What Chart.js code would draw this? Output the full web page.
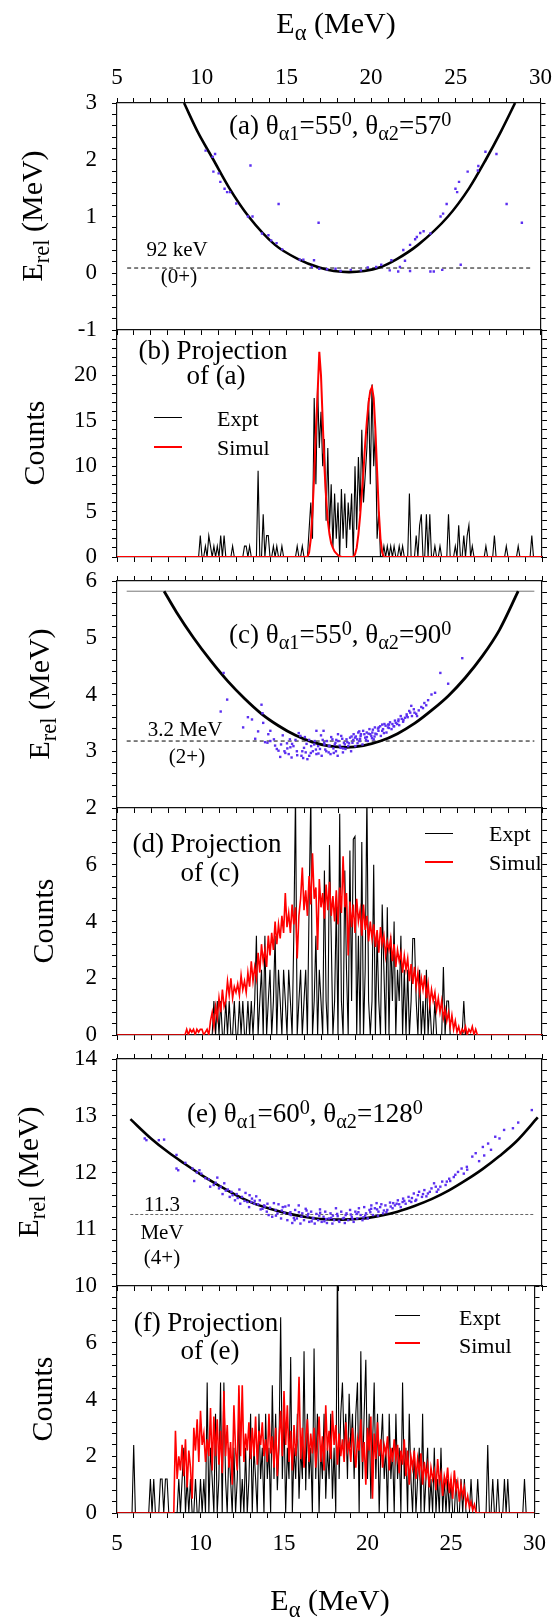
<!DOCTYPE html>
<html><head><meta charset="utf-8">
<script src="https://cdn.jsdelivr.net/npm/chart.js@4.4.1/dist/chart.umd.min.js"></script>
<style>
html,body{margin:0;padding:0;background:#fff;}
#wrap{position:relative;width:558px;height:1619px;overflow:hidden;font-family:'Liberation Serif','Times New Roman',serif;color:#000;}
canvas{position:absolute;left:0;top:0;}
.t{position:absolute;white-space:nowrap;line-height:1;}
.c{transform:translateX(-50%);}
.rot{transform:translate(-50%,-50%) rotate(-90deg);}
.sb{font-size:0.75em;position:relative;top:0.3em;}
.sp{font-size:0.75em;position:relative;top:-0.42em;}
.ln{position:absolute;height:0;}
</style></head><body><div id="wrap">
<canvas id="ca" width="558" height="1619"></canvas>
<canvas id="cb" width="558" height="1619"></canvas>
<canvas id="cc" width="558" height="1619"></canvas>
<canvas id="cd" width="558" height="1619"></canvas>
<canvas id="ce" width="558" height="1619"></canvas>
<canvas id="cf" width="558" height="1619"></canvas>

<div class="t c" style="left:336px;top:8px;font-size:30px">E<span class="sb">α</span> (MeV)</div>
<div class="t c" style="left:330px;top:1585px;font-size:30px">E<span class="sb">α</span> (MeV)</div>

<div class="t rot" style="left:32px;top:216px;font-size:30px">E<span class="sb">rel</span> (MeV)</div>
<div class="t rot" style="left:34px;top:443px;font-size:30px">Counts</div>
<div class="t rot" style="left:39px;top:694px;font-size:30px">E<span class="sb">rel</span> (MeV)</div>
<div class="t rot" style="left:43px;top:921px;font-size:30px">Counts</div>
<div class="t rot" style="left:28px;top:1172px;font-size:30px">E<span class="sb">rel</span> (MeV)</div>
<div class="t rot" style="left:42px;top:1399px;font-size:30px">Counts</div>

<div class="t" style="left:229px;top:112px;font-size:27px">(a) θ<span class="sb">α1</span>=55<span class="sp">0</span>, θ<span class="sb">α2</span>=57<span class="sp">0</span></div>
<div class="t c" style="left:177px;top:239px;font-size:21px">92 keV</div>
<div class="t c" style="left:179px;top:266px;font-size:21px">(0+)</div>

<div class="t c" style="left:213px;top:337px;font-size:27px">(b) Projection</div>
<div class="t c" style="left:216px;top:362px;font-size:27px">of (a)</div>
<div class="ln" style="left:154px;top:417px;width:28px;border-top:1.5px solid #000"></div>
<div class="ln" style="left:154px;top:446px;width:28px;border-top:2px solid #f00"></div>
<div class="t" style="left:217px;top:408px;font-size:22px">Expt</div>
<div class="t" style="left:217px;top:437px;font-size:22px">Simul</div>

<div class="t" style="left:229px;top:621px;font-size:27px">(c) θ<span class="sb">α1</span>=55<span class="sp">0</span>, θ<span class="sb">α2</span>=90<span class="sp">0</span></div>
<div class="t c" style="left:185px;top:719px;font-size:21px">3.2 MeV</div>
<div class="t c" style="left:187px;top:746px;font-size:21px">(2+)</div>

<div class="t c" style="left:207px;top:830px;font-size:27px">(d) Projection</div>
<div class="t c" style="left:210px;top:859px;font-size:27px">of (c)</div>
<div class="ln" style="left:425px;top:833px;width:28px;border-top:1.5px solid #000"></div>
<div class="ln" style="left:425px;top:861px;width:28px;border-top:2px solid #f00"></div>
<div class="t" style="left:489px;top:823px;font-size:22px">Expt</div>
<div class="t" style="left:489px;top:852px;font-size:22px">Simul</div>

<div class="t" style="left:187px;top:1100px;font-size:27px">(e) θ<span class="sb">α1</span>=60<span class="sp">0</span>, θ<span class="sb">α2</span>=128<span class="sp">0</span></div>
<div class="t c" style="left:162px;top:1194px;font-size:21px">11.3</div>
<div class="t c" style="left:162px;top:1222px;font-size:21px">MeV</div>
<div class="t c" style="left:162px;top:1247px;font-size:21px">(4+)</div>

<div class="t c" style="left:206px;top:1309px;font-size:27px">(f) Projection</div>
<div class="t c" style="left:210px;top:1337px;font-size:27px">of (e)</div>
<div class="ln" style="left:395px;top:1315px;width:25px;border-top:1.5px solid #000"></div>
<div class="ln" style="left:395px;top:1342px;width:25px;border-top:2px solid #f00"></div>
<div class="t" style="left:459px;top:1307px;font-size:22px">Expt</div>
<div class="t" style="left:459px;top:1335px;font-size:22px">Simul</div>
</div>
<script>
// ---------------- data ----------------
const X_MIN = 5, X_MAX = 30;
const X_LABELS = [5, 10, 15, 20, 25, 30];
const BIN = 0.1;

const aYLabels = [-1, 0, 1, 2, 3];
const bYLabels = [0, 5, 10, 15, 20];
const cYLabels = [2, 3, 4, 5, 6];
const dYLabels = [0, 2, 4, 6];
const eYLabels = [10, 11, 12, 13, 14];
const fYLabels = [0, 2, 4, 6];

// (a) kinematic curve and events
const aCurveX = [8.96, 9.75, 10.69, 11.63, 12.77, 14.33, 15.69, 16.94, 17.8, 18.7, 19.6, 20.48, 21.52, 22.77, 24.54, 25.79, 26.77, 27.67, 28.5];
const aCurveY = [3, 2.5, 2, 1.5, 1, 0.5, 0.25, 0.1, 0.04, 0.02, 0.04, 0.1, 0.25, 0.5, 1, 1.5, 2, 2.5, 3];
const aDotsX = [10.23,10.79,10.65,10.69,11.0,11.1,11.35,11.5,11.67,12.04,12.88,12.73,13.0,13.56,13.94,14.1,14.54,14.42,14.75,15.79,16.0,16.63,16.5,16.9,16.94,17.4,17.9,18.2,18.8,19.4,19.8,20.3,20.6,21.1,21.2,21.7,21.6,22.0,21.9,22.3,22.3,22.6,22.7,22.9,23.1,23.5,23.5,23.7,24.2,24.1,24.25,24.46,24.98,25.08,25.19,25.29,25.7,26.3,26.33,26.75,27.4,28.0,28.9];
const aDotsY = [2.16,2.10,2.05,1.79,1.76,1.61,1.49,1.43,1.43,1.23,1.90,1.0,1.0,0.70,0.67,0.58,1.22,0.53,0.42,0.24,0.24,0.23,0.11,0.89,0.08,0.07,0.08,0.04,0.06,0.05,0.1,0.11,0.15,0.05,0.23,0.11,0.03,0.22,0.41,0.50,0.04,0.60,0.64,0.71,0.74,0.70,0.03,0.03,0.06,1.0,1.05,1.22,1.49,1.43,1.61,0.15,1.79,1.81,1.89,2.14,2.10,1.22,0.89];
const aLevel = 0.092, aLevelFrom = 5.6, aLevelTo = 29.5;

// (b) projection of (a)
const bExptStart = 9.7;
const bExpt = [0,0,2.35,0,0,1.2,0,2.35,1.2,0, 1.2,0,1.2,0,2.35,0,2.35,0,0,0, 0,1.2,0,0,0,0,0,0,1.2,1.2, 0,1.2,0,0,0,0,9.5,0,0,4.7, 0,2.35,2.35,0,0,1.2,0,1.2,0,0, 1.2,0,0,0,0,0,0,0,0,1.2, 0,0,1.2,0,0,0,3,6,2,17.5, 8,19,12,16,10,13,4,12,3,8, 1,7,2,6,0,7.5,2,7,1,6, 3,7,0,10,3,11,5,14,6,9, 12,17.5,8,19,10,14,2,5,0,0, 1.2,0,1.2,0,1.2,0,1.2,0,0,1.2, 0,1.2,0,0,0,7.0,0,0,0,2.35, 0,3.5,4.7,0,0,4.7,0,4.7,0,0, 1.2,0,0,1.2,0,0,0,0,4.7,0, 0,0,1.2,0,3.5,0,0,2.35,0,2.35, 3.5,0,1.2,0,0,0,0,0,0,0, 1.2,0,0,0,0,2.35,0,0,0,0, 0,0,1.2,0,0,0,0,0,0,1.2, 0,0,0,0,0,0,0,2.35,0];
const bSimulStart = 16.2;
const bSimul = [0,0.5,2,5,9,14,18,22.6,20,15, 10,6.5,4,2.5,1.5,1,0.6,0.4,0.2,0.1, 0,0,0,0,0,0,0,0, 0.3,1,2.5,4.5,7,9.5,12.5,15,17,18.3, 18.7,17.5,14,9.5,5,2,0.5,0];

// (c) kinematic curve and events
const cCurveX = [7.77, 8.5, 9.5, 10.5, 11.5, 12.5, 13.5, 14.5, 15.5, 16.5, 17.5, 18.5, 19.5, 20.5, 21.5, 22.5, 23.5, 24.5, 25.5, 26.5, 27.5, 28.6];
const cCurveY = [5.82, 5.45, 5.0, 4.6, 4.24, 3.93, 3.66, 3.45, 3.28, 3.16, 3.09, 3.07, 3.1, 3.18, 3.31, 3.49, 3.72, 3.98, 4.3, 4.68, 5.14, 5.82];
const cDotsX = [11.27,11.1,11.48,12.42,12.94,13.13,13.5,13.56,13.6,13.71, 13.85,14.02,14.02,14.23,14.4,14.5,14.65,14.75,14.85,15.02, 15.1,15.17,15.27,15.38,15.58,15.69,15.79,15.85,16.0,16.1, 16.2,16.31,16.42,16.52,16.63,16.73,16.73,16.83,16.94,17.04, 17.15,17.19,17.31,17.35,17.46,17.56,17.67,17.73,17.81,17.88, 17.98,18.02,18.15,18.19,18.29,18.35,18.44,18.5,18.6,18.71, 18.77,18.85,18.92,19.02,19.13,19.19,19.27,19.33,19.44,19.48, 19.6,19.69,19.75,19.85,19.96,20.02,20.1,20.17,20.27,20.38, 20.48,20.52,20.65,20.73,20.85,20.94,21.06,21.15,21.27,21.35, 21.48,21.56,21.69,21.83,21.94,22.04,22.19,22.31,22.35,22.46, 23.08,23.19,23.5,23.71,24.02,24.48,25.31,
 14.3,14.9,15.3,15.5,15.9,16.05,16.4,16.6,16.85,17.1, 17.25,17.5,17.6,17.85,18.1,18.25,18.4,18.65,18.9,19.05, 19.3,19.55,19.7,19.9,20.05,20.2,20.35,20.6,20.8,21.0, 21.2,21.4,21.6,21.75,22.1,22.25,22.6,22.75,22.9,23.3, 13.3,12.7,13.9,15.0,16.3,17.0,18.0,19.0,20.0,21.0,
 15.2,15.6,16.15,16.7,17.2,17.45,17.9,18.3,18.55,18.8, 19.15,19.35,19.65,19.8,20.15,20.4,20.7,20.95,21.3,21.55, 21.85,22.05,22.5,22.65,23.0,14.6,15.95,17.75,19.25,20.6];
const cDotsY = [4.38,3.70,3.91,3.42,3.56,3.22,3.82,3.67,3.5,3.16, 3.15,3.36,3.18,3.21,3.04,3.01,3.12,3.28,3.0,3.05, 2.95,3.21,2.89,3.09,3.0,3.32,3.27,2.92,3.06,2.98, 2.86,2.92,3.09,3.0,3.18,3.36,2.95,3.09,3.04,2.92, 3.36,3.15,3.0,3.18,3.09,2.95,3.21,3.05,3.12,3.0, 2.92,3.18,3.06,3.27,2.98,3.15,3.04,3.21,3.09,3.24, 3.0,3.15,3.30,3.09,3.21,3.33,3.18,3.27,3.12,3.36, 3.24,3.33,3.18,3.39,3.27,3.33,3.21,3.42,3.3,3.36, 3.44,3.27,3.39,3.48,3.33,3.42,3.51,3.39,3.44,3.54, 3.48,3.56,3.62,3.52,3.59,3.65,3.71,3.80,3.62,3.74, 3.85,3.81,4.0,4.03,4.38,4.19,4.64,
 3.1,2.97,3.13,3.2,3.0,3.25,2.97,3.12,2.96,3.2, 3.03,3.1,3.25,3.15,3.1,3.22,3.12,3.14,3.2,3.26, 3.22,3.3,3.25,3.3,3.38,3.31,3.4,3.36,3.45,3.41, 3.48,3.5,3.46,3.57,3.6,3.68,3.66,3.72,3.78,3.9, 3.35,3.6,3.3,3.14,3.2,3.28,3.3,3.24,3.23,3.47,
 3.07,2.93,3.13,3.03,3.12,2.98,3.2,3.05,3.16,3.26, 3.14,3.3,3.2,3.31,3.26,3.42,3.32,3.47,3.44,3.53, 3.55,3.62,3.68,3.62,3.76,2.9,2.88,2.97,3.35,3.47];
const cLevel = 3.18, cLevelFrom = 5.57, cLevelTo = 29.55;
const cTopLevel = 5.82;

// (d) projection of (c)
const dExptStart = 10.6;
const dExpt = [0,1.2,0,1.2,
 0,1.2,0,0,1.2,0,1.2,0,0,1.2,
 0,0,1.2,0,1.2,0,0,1.2,0,1.2,
 0,1.2,3.5,0,1.2,2.3,0,3.5,0,1.2,
 2.3,0,1.2,3.5,0,2.3,1.2,0,2.3,1.2,
 0,2.3,1.2,0,3.5,8.5,0,1.2,2.3,0,
 1.2,2.3,0,4.6,8.5,0,1.2,3.5,0,2.3,
 1.2,0,5.8,1.2,0,6.7,3.5,0,1.2,4.6,
 0,7.8,1.2,0,5.8,2.3,0,6.5,1.2,6.9,
 7.0,0,3.5,0,6.8,0,2.3,8.5,1.2,0,
 1.2,6.0,0,3.5,1.2,0,4.6,2.3,0,4.5,
 0,3.5,1.2,4.0,0,2.3,1.2,3.5,0,2.3,
 0,2.3,0,1.2,3.4,3.4,1.2,0,2.3,0,
 1.2,0,2.3,0,1.2,0,0,1.2,0,0,
 0,0,2.4,0,1.2,1.2,0,0,0,0,
 0,0,0,0,1.2,0,0];
const dSimulStart = 9.0;
const dSimul = [0,0.2,0,0.2,0.1,0.2,0,0.2,0.1,0.2,
 0.2,0,0.1,0.2,0,0.5,0.8,0.3,1.0,0.6,
 1.3,0.8,1.6,1.0,1.2,1.9,1.4,2.0,1.3,1.7,
 1.5,1.8,1.4,2.1,1.6,1.9,1.5,2.2,1.7,2.6,
 1.9,2.4,2.0,2.9,2.2,3.2,2.6,3.0,2.4,3.5,
 2.8,3.6,3.0,4.0,3.2,3.9,3.4,4.2,3.6,5.0,
 3.8,4.3,3.6,4.6,3.9,4.5,2.7,4.2,4.8,5.9,
 4.4,5.1,4.2,5.6,4.6,6.4,4.8,5.2,3.0,5.5,
 4.5,5.0,4.1,5.3,4.4,5.4,4.2,4.9,4.0,5.1,
 3.9,5.2,4.3,6.3,4.5,5.0,2.8,4.7,3.8,4.6,
 3.6,4.8,4.0,4.4,3.5,4.6,3.7,4.2,3.3,4.0,
 3.4,3.9,3.1,3.7,2.9,3.8,3.2,3.5,2.8,3.3,
 3.0,3.4,2.6,3.2,2.4,3.0,2.6,2.9,2.2,2.8,
 2.3,2.7,1.9,2.5,1.8,2.4,1.7,2.2,1.5,2.0,
 1.6,2.1,1.3,1.8,1.1,1.6,1.2,1.5,0.9,1.3,
 0.8,1.2,0.6,0.9,0.5,0.8,0.3,0.7,0.2,0.5,
 0.1,0.3,0,0.2,0.1,0.3,0,0.2,0.1,0.3,
 0,0.2,0,0];

// (e) kinematic curve and events
const eCurveX = [5.79, 7.0, 8.0, 9.0, 10.0, 11.0, 12.0, 13.0, 14.0, 15.0, 16.0, 17.0, 18.2, 19.5, 20.5, 21.5, 22.5, 23.5, 24.5, 25.5, 26.5, 27.5, 28.5, 29.75];
const eCurveY = [12.94, 12.6, 12.36, 12.15, 11.95, 11.77, 11.6, 11.46, 11.36, 11.28, 11.22, 11.18, 11.17, 11.19, 11.24, 11.31, 11.41, 11.53, 11.68, 11.86, 12.06, 12.29, 12.55, 12.97];
const eDotsX = [6.63,6.73,7.46,7.77,8.5,8.5,8.6,9.02,9.44,9.54, 9.85,9.96,10.48,10.69,10.9,11.0,11.21,11.31,11.52,11.63, 11.73,11.94,12.04,12.25,12.35,12.56,12.67,12.77,12.94,13.08, 13.19,13.4,13.56,13.65,13.81,13.92,14.13,14.23,14.33,14.44, 14.65,14.75,14.85,15.02,15.1,15.23,15.31,15.48,15.58,15.69, 15.79,15.9,16.0,16.1,16.21,16.31,16.42,16.52,16.63,16.73, 16.83,16.94,17.04,17.15,17.25,17.35,17.46,17.56,17.67,17.77, 17.88,17.98,18.08,18.19,18.29,18.4,18.5,18.6,18.71,18.81, 18.92,19.02,19.13,19.23,19.33,19.44,19.54,19.65,19.75,19.85, 19.96,20.06,20.17,20.27,20.38,20.48,20.65,20.79,20.9,21.06, 21.21,21.35,21.52,21.69,21.83,21.98,22.15,22.31,22.46,22.6, 22.77,22.94,23.08,23.29,23.5,23.65,23.81,24.02,24.13,24.33, 24.54,24.81,25.06,25.27,25.58,25.9,26.1,26.52,26.83,27.25, 27.77,28.29,29.4,
 10.2,10.8,11.4,11.8,12.1,12.5,12.9,13.3,13.7,14.0, 14.5,14.9,15.2,15.4,15.7,16.15,16.45,16.9,17.2,17.6, 17.95,18.35,18.75,19.1,19.5,19.9,20.3,20.7,21.1,21.45, 21.8,22.2,22.7,23.2,23.9,24.6,25.4,26.3,27.0,28.6,
 13.1,13.45,13.85,14.35,14.7,15.15,15.45,15.85,16.25,16.55, 16.95,17.3,17.7,18.05,18.45,18.85,19.2,19.6,19.95,20.35, 20.55,20.85,21.25,21.6,21.9,22.35,22.55,23.0,23.4,23.75, 12.8,12.2,11.1,10.4,9.7,24.4,24.9,25.6,26.6,27.5];
const eDotsY = [12.6,12.57,12.57,12.58,12.31,12.07,12.04,12.17,12.07,11.85, 12.04,11.98,11.75,11.78,11.91,11.72,11.62,11.81,11.70,11.57, 11.66,11.51,11.62,11.45,11.57,11.64,11.48,11.39,11.54,11.45, 11.58,11.51,11.36,11.42,11.31,11.25,11.22,11.46,11.34,11.28, 11.19,11.39,11.29,11.16,11.42,11.25,11.11,11.34,11.19,11.42, 11.1,11.28,11.16,11.36,11.23,11.13,11.31,11.19,11.1,11.27, 11.16,11.35,11.13,11.22,11.31,11.11,11.19,11.28,11.1,11.16, 11.37,11.23,11.13,11.31,11.19,11.11,11.28,11.16,11.34,11.22, 11.13,11.31,11.19,11.37,11.25,11.16,11.39,11.28,11.19,11.34, 11.42,11.25,11.37,11.46,11.31,11.39,11.28,11.42,11.34,11.47, 11.37,11.42,11.51,11.39,11.54,11.45,11.57,11.48,11.63,11.52, 11.66,11.57,11.69,11.63,11.72,11.81,11.66,11.75,11.84,11.78, 11.89,11.92,12.01,12.07,12.1,12.28,12.34,12.45,12.51,12.63, 12.75,12.78,13.1,
 11.9,11.82,11.68,11.6,11.55,11.5,11.48,11.44,11.4,11.38, 11.44,11.4,11.3,11.2,11.3,11.33,11.14,11.24,11.14,11.2, 11.27,11.2,11.26,11.27,11.21,11.3,11.35,11.33,11.4,11.45, 11.48,11.5,11.6,11.58,11.7,11.85,11.98,12.2,12.4,12.88,
 11.5,11.35,11.45,11.24,11.33,11.27,11.16,11.22,11.27,11.2, 11.29,11.18,11.24,11.15,11.25,11.18,11.3,11.24,11.36,11.24, 11.44,11.3,11.46,11.44,11.5,11.55,11.5,11.62,11.66,11.75, 11.6,11.7,11.75,11.88,12.0,11.84,11.96,12.05,12.3,12.6];
const eLevel = 11.26, eLevelFrom = 5.78, eLevelTo = 29.6;

// (f) projection of (e)
const fExptStart = 5.9;
const fExpt = [0,2.4,0,0,0,0,0,0,0,0,0,
 1.2,0,1.2,0,0,0,1.2,1.2,0,1.2,
 1.2,0,0,0,0,0,0,1.2,0,1.2,
 2.3,0,1.2,0,1.2,0,0,1.2,0,0,
 1.2,0,1.2,0,4.6,0,2.3,1.2,0,3.5,
 0,1.2,4.6,0,4.6,1.2,0,2.3,1.2,0,
 2.3,0,1.2,3.5,0,1.2,0,2.3,0,1.2,
 3.5,0,2.3,1.2,0,3.5,1.2,2.3,0,3.5,
 1.2,2.3,0,4.5,1.2,3.5,0.8,2.3,6.9,1.2,
 3.5,0,2.3,1.2,5.5,0,2.3,1.2,3.5,0.5,
 2.3,1.2,5.7,0.8,3.5,1.2,2.3,0,5.8,1.2,
 3.5,0,2.3,1.2,3.5,0.5,2.3,1.2,3.5,0.5,
 2.3,0,9,1.2,3.5,4.6,2.3,3.5,1.2,4.2,
 2.3,3.5,1.2,3.5,4.6,0,5.7,1.2,3.5,5.4,
 1.2,3.5,0.5,2.3,4.6,1.2,3.5,0,2.3,3.5,
 1.2,2.3,0,3.5,1.2,2.3,0,3.5,1.2,2.3,
 0,4.6,1.2,2.3,0,3.5,1.2,0,2.3,0,
 1.2,2.3,0,3.5,0,1.2,2.3,0,1.2,0,
 2.3,0,1.2,0,2.3,0,1.2,0,1.2,0,
 1.2,0,0,1.2,0,0,1.2,0,1.2,0,
 0,0,1.2,0,0,0,1.2,0,0,0,
 0,0,2.4,0,0,1.2,0,0,1.2,0,
 0,0,1.2,0,1.2,0,0,0,0,0,
 0,0,0,0,1.2,0];
const fSimulStart = 8.4;
const fSimul = [0,2.9,1.2,2.0,1.5,2.4,1.3,2.6,0.9,2.2, 1.6,0.5,3.0,2.2,3.3,1.8,3.6,2.4,2.8,1.8, 2.6,2.0,3.7,1.5,3.4,2.0,3.3,1.7,2.9,1.4, 4.3,2.0,3.1,1.6,2.5,1.0,3.8,2.2,1.5,4.5, 2.0,4.5,1.8,2.8,2.2,3.2,1.9,3.0,2.0,3.4, 1.7,2.9,2.4,3.2,2.0,2.6,1.8,3.5,2.1,2.7, 1.6,3.0,1.3,2.6,3.6,2.0,4.3,2.4,3.8,1.8, 2.9,1.5,3.1,2.0,2.7,4.8,1.9,3.0,1.6,2.6, 3.3,1.8,2.8,2.1,3.0,1.6,2.4,3.4,1.8,2.7, 1.5,3.8,2.2,2.9,1.9,3.6,2.4,3.1,1.7,2.8, 2.0,2.6,1.8,3.2,2.2,2.5,1.8,3.0,2.3,1.6, 2.6,2.2,3.3,1.8,2.5,1.0,3.0,2.2,3.4,0.5, 2.8,1.9,3.2,2.0,2.6,1.6,2.4,2.1,2.7,1.5, 2.3,1.8,2.6,1.9,2.4,1.4,2.2,1.7,2.6,1.3, 2.2,1.0,2.0,1.6,2.2,1.2,1.9,1.4,2.1,1.0, 1.8,1.3,1.7,0.9,1.6,1.2,1.5,0.8,1.9,1.1, 1.4,0.6,1.3,1.0,1.6,0.7,1.2,0.5,1.5,0.8, 1.1,0.4,1.0,0.6,0.9,0.3,0.6,0.2,0.4,0.1, 0.3,0,0];

// ---------------- drawing ----------------
const FONT = "'Liberation Serif','Times New Roman',serif";
const W = 558, H = 1619, LEFT = 117, RIGHT = 542;
const DOT = '#5b2ff0';

function pts(xs, ys) { return xs.map((x, i) => ({ x: x, y: ys[i] })); }
function hist(start, vals, base) {
  const out = vals.map((v, i) => ({ x: Math.round((start + i * BIN) * 100) / 100, y: v }));
  if (base) { out.unshift({ x: X_MIN, y: 0 }); out.push({ x: X_MAX, y: 0 }); }
  return out;
}
function labelCb(list) {
  return v => { const r = Math.round(v); return (Math.abs(v - r) < 1e-6 && list.includes(r)) ? String(r) : ''; };
}
function gridOpt() { return { drawOnChartArea: false, drawTicks: true, tickLength: 5, color: '#000', lineWidth: 1 }; }
function borderOpt() { return { display: true, color: '#111', width: 1.2 }; }

function xAxis(o, pos) {
  const show = pos === 'top' ? o.topLabels : o.bottomLabels;
  return {
    type: 'linear', position: pos, min: X_MIN, max: X_MAX,
    ticks: { stepSize: 1, autoSkip: false, maxRotation: 0, minRotation: 0,
      padding: pos === 'top' ? 6 : 12, color: '#000', font: { family: FONT, size: 23 },
      callback: show ? labelCb(X_LABELS) : () => '' },
    grid: gridOpt(), border: borderOpt(),
    afterFit: s => { s.height = pos === 'top' ? o.top : H - o.bottom; }
  };
}
function yAxis(o, pos) {
  return {
    type: 'linear', position: pos, min: o.ymin, max: o.ymax,
    ticks: { stepSize: o.ystep, autoSkip: false, padding: 15, color: '#000',
      font: { family: FONT, size: 23 },
      callback: pos === 'left' ? labelCb(o.ylabels) : () => '' },
    grid: gridOpt(), border: borderOpt(),
    afterFit: s => { s.width = pos === 'left' ? LEFT : W - RIGHT; }
  };
}
function panel(id, o) {
  const scales = { x: xAxis(o, 'bottom'), y: yAxis(o, 'left'), yr: yAxis(o, 'right') };
  if (o.topAxis) scales.xt = xAxis(o, 'top');
  o.datasets.forEach(d => { d.xAxisID = 'x'; d.yAxisID = 'y'; d.pointRadius = d.pointRadius || 0; d.pointHoverRadius = 0; });
  new Chart(document.getElementById(id), {
    type: 'line',
    data: { datasets: o.datasets },
    options: {
      responsive: false, animation: false, events: [],
      layout: { padding: { top: o.topAxis ? 0 : o.top, bottom: 0, left: 0, right: 0 } },
      plugins: { legend: { display: false }, tooltip: { enabled: false } },
      scales: scales
    }
  });
}
function dots(xs, ys) {
  return { data: pts(xs, ys), showLine: false, pointStyle: 'rect', pointRadius: 1.7,
    pointBackgroundColor: DOT, pointBorderWidth: 0, borderColor: DOT };
}
function curve(xs, ys, w) {
  return { data: pts(xs, ys), borderColor: '#000', borderWidth: w, cubicInterpolationMode: 'monotone', fill: false };
}
function level(y, x0, x1, color, dash) {
  return { data: [{ x: x0, y: y }, { x: x1, y: y }], borderColor: color, borderWidth: 1, borderDash: dash, fill: false };
}
function simul(start, vals, w) {
  return { data: hist(start, vals, true), borderColor: '#ff0000', borderWidth: w, fill: false, tension: 0 };
}
function expt(start, vals) {
  return { data: hist(start, vals, false), borderColor: '#000', borderWidth: 1.1, fill: false, tension: 0 };
}

panel('ca', { top: 103, bottom: 330, ymin: -1, ymax: 3, ystep: 0.2, ylabels: aYLabels, topAxis: true, topLabels: true,
  datasets: [dots(aDotsX, aDotsY), curve(aCurveX, aCurveY, 2.6), level(aLevel, aLevelFrom, aLevelTo, '#000', [4, 3])] });
panel('cb', { top: 330, bottom: 557, ymin: 0, ymax: 25, ystep: 1, ylabels: bYLabels,
  datasets: [simul(bSimulStart, bSimul, 2), expt(bExptStart, bExpt)] });
panel('cc', { top: 581, bottom: 808, ymin: 2, ymax: 6, ystep: 0.2, ylabels: cYLabels, topAxis: true,
  datasets: [dots(cDotsX, cDotsY), curve(cCurveX, cCurveY, 2.8), level(cLevel, cLevelFrom, cLevelTo, '#000', [4, 3]),
    level(cTopLevel, cLevelFrom, cLevelTo, '#777', [])] });
panel('cd', { top: 808, bottom: 1035, ymin: 0, ymax: 8, ystep: 0.4, ylabels: dYLabels,
  datasets: [simul(dSimulStart, dSimul, 1.6), expt(dExptStart, dExpt)] });
panel('ce', { top: 1059, bottom: 1286, ymin: 10, ymax: 14, ystep: 0.2, ylabels: eYLabels, topAxis: true,
  datasets: [dots(eDotsX, eDotsY), curve(eCurveX, eCurveY, 2.6), level(eLevel, eLevelFrom, eLevelTo, '#666', [3, 2])] });
panel('cf', { top: 1286, bottom: 1513, ymin: 0, ymax: 8, ystep: 0.4, ylabels: fYLabels, bottomLabels: true,
  datasets: [simul(fSimulStart, fSimul, 1.6), expt(fExptStart, fExpt)] });
</script>
</body></html>
